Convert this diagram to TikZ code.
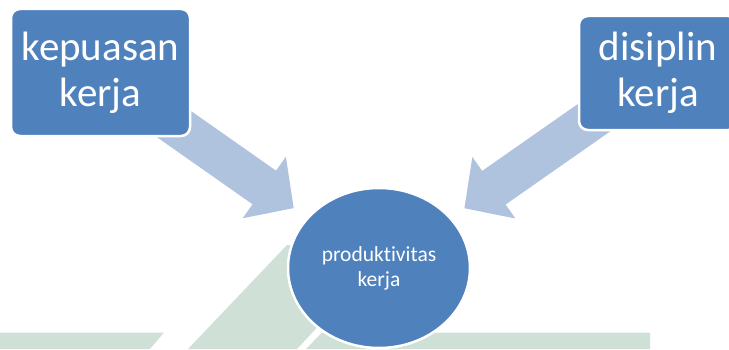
\documentclass[tikz,border=0pt]{standalone}
\usepackage{fontspec}
\setmainfont{Carlito}[Ligatures=NoCommon]
\usetikzlibrary{shapes.geometric,arrows.meta,backgrounds}
\definecolor{boxblue}{RGB}{79,129,189}
\definecolor{arrowblue}{RGB}{176,195,222}
\definecolor{markgreen}{RGB}{207,224,214}
\begin{document}
\begin{tikzpicture}[x=1pt,y=1pt,
 factor/.style={draw=white,line width=2.5pt,fill=boxblue,rounded corners=9pt,text=white,align=center,font=\fontsize{41}{46}\selectfont,inner sep=0pt},
 target/.style={ellipse,draw=white,line width=2.5pt,fill=boxblue,text=white,align=center,font=\fontsize{21.5}{25}\selectfont,minimum width=182pt,minimum height=160pt,inner sep=0pt},
 fatarrow/.style={arrowblue,line width=41pt,-{Triangle[width=73pt 0,length=36pt 0]},shorten >=16pt}]
 \useasboundingbox (0,0) rectangle (729,349);
 \clip (0,0) rectangle (729,349);
 % faint mark behind the picture
 \fill[markgreen](0,0)--(0,16.5)--(164,16.5)--(150,0)--cycle;
 \fill[markgreen](188,0)--(287,104)--(394,104)--(297,0)--cycle;
 \fill[markgreen](306,0)--(322,16.5)--(650,16.5)--(650,0)--cycle;
 \node[factor,minimum width=179pt,minimum height=127pt] (kepuasan) at (100.5,276.5) {kepuasan\\kerja};
 \node[factor,minimum width=158pt,minimum height=114pt] (disiplin) at (658,276) {disiplin\\kerja};
 \node[target] (produktivitas) at (379,81) {produktivitas\\kerja};
 \begin{scope}[on background layer]
 \draw[fatarrow](kepuasan.center)--(produktivitas);
 \draw[fatarrow](disiplin.center)--(produktivitas);
 \end{scope}
\end{tikzpicture}
\end{document}
